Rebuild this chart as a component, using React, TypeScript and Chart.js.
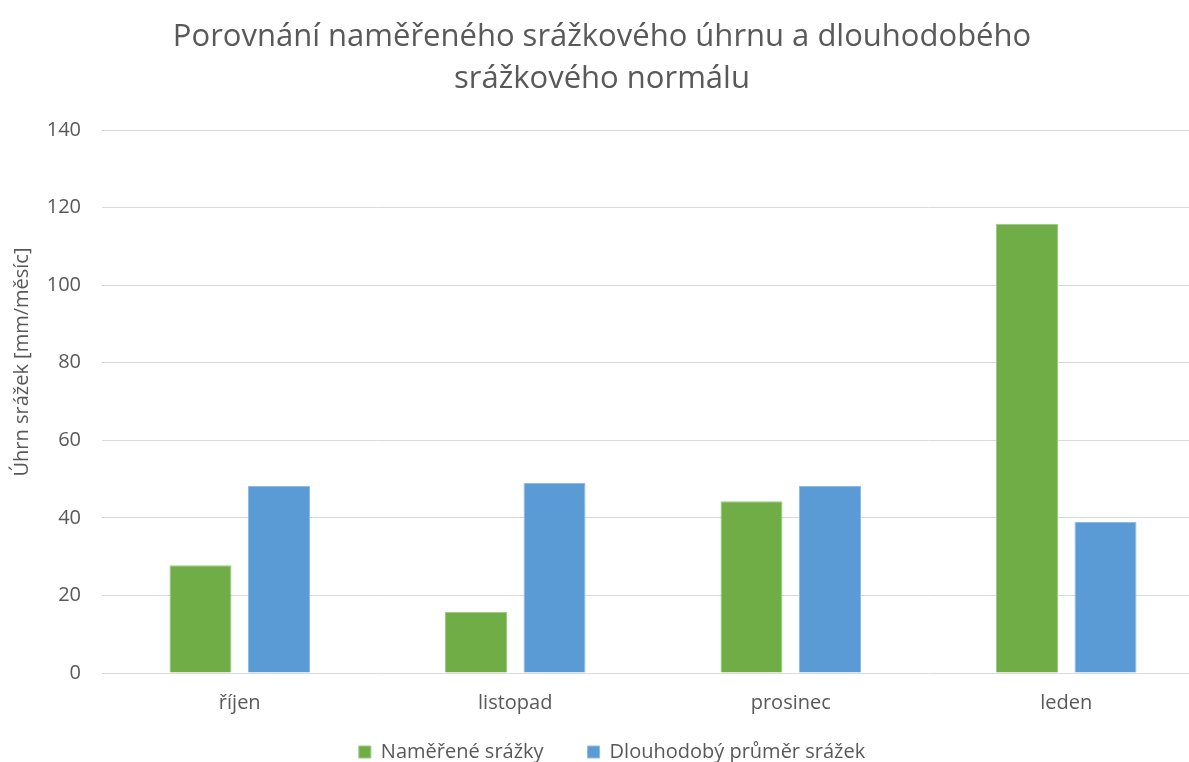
import React, { useEffect, useRef } from "react";
import { Chart, registerables } from "chart.js";

Chart.register(...registerables);

const categories = ["říjen", "listopad", "prosinec", "leden"];
const measured = [27.8, 15.7, 44.3, 115.8];
const longTermMean = [48.2, 49.0, 48.2, 38.9];
const yTicks = [0, 20, 40, 60, 80, 100, 120, 140];
const titleLines = ["Porovnání naměřeného srážkového úhrnu a dlouhodobého", "srážkového normálu"];
const seriesNames = ["Naměřené srážky", "Dlouhodobý průměr srážek"];
const yTitle = "Úhrn srážek [mm/měsíc]";

const FONT = "'Open Sans'";
const TEXT = "#595959";

const yTitlePlugin = {
  id: "yTitlePlugin",
  afterLayout(chart: any) {
    if (chart.legend) {
      chart.legend.left += 10;
      chart.legend.right += 10;
    }
  },
  afterDraw(chart: any) {
    const ctx = chart.ctx;
    ctx.save();
    ctx.translate(22, 362);
    ctx.rotate(-Math.PI / 2);
    ctx.font = `20px ${FONT}`;
    ctx.fillStyle = TEXT;
    ctx.textAlign = "center";
    ctx.textBaseline = "middle";
    ctx.fillText(yTitle, 0, 0);
    ctx.restore();
  },
};

export default function App() {
  const ref = useRef<HTMLCanvasElement | null>(null);
  useEffect(() => {
    if (!ref.current) return;
    const chart = new Chart(ref.current, {
      type: "bar",
      data: {
        labels: categories,
        datasets: [
          {
            label: seriesNames[0],
            data: measured,
            backgroundColor: "#70AD47",
            borderColor: "#9CCB7E",
            borderWidth: 1,
            categoryPercentage: 0.57,
            barPercentage: 0.79,
          },
          {
            label: seriesNames[1],
            data: longTermMean,
            backgroundColor: "#5B9BD5",
            borderColor: "#8DBCE6",
            borderWidth: 1,
            categoryPercentage: 0.57,
            barPercentage: 0.79,
          },
        ],
      },
      options: {
        responsive: false,
        animation: false,
        layout: { padding: { left: 0, right: 0, top: 0, bottom: 0 } },
        plugins: {
          title: {
            display: true,
            text: titleLines,
            color: TEXT,
            font: { family: FONT, size: 31, weight: "normal", lineHeight: 42 / 31 },
            padding: { top: 16, bottom: 30 },
          },
          legend: {
            position: "bottom",
            labels: {
              color: TEXT,
              font: { family: FONT, size: 20 },
              boxWidth: 12,
              boxHeight: 12,
              padding: 44,
            },
          },
          tooltip: { enabled: false },
        },
        scales: {
          x: {
            grid: { display: false, drawTicks: false },
            border: { display: false },
            ticks: { color: TEXT, font: { family: FONT, size: 20 }, mirror: true, padding: -42 },
            afterFit: (s: any) => {
              s.height = 25;
            },
          },
          y: {
            min: 0,
            max: 140,
            afterBuildTicks: (s: any) => {
              s.ticks = yTicks.map((v) => ({ value: v }));
            },
            grid: { color: "#D9D9D9", lineWidth: 1, drawTicks: false },
            border: { display: false },
            ticks: { color: TEXT, font: { family: FONT, size: 20 }, padding: 21 },
            afterFit: (s: any) => {
              s.width = 102;
            },
          },
        },
      },
      plugins: [yTitlePlugin],
    });
    return () => chart.destroy();
  }, []);
  return (
    <div style={{ position: "fixed", left: 0, top: 0, width: 1189, height: 762, overflow: "hidden", background: "#fff" }}>
      <canvas ref={ref} width={1204} height={772} style={{ display: "block", width: 1204, height: 772 }} />
    </div>
  );
}
